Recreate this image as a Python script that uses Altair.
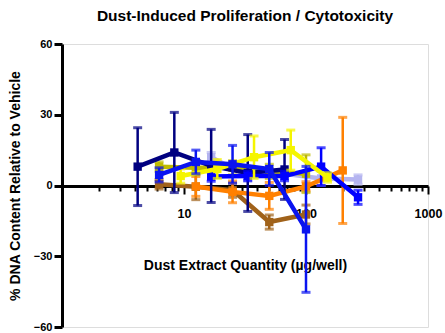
import altair as alt
import pandas as pd

# ---- data ----
series_names = ["Lavender", "Brown", "Orange", "Olive", "Navy", "Blue B", "Yellow", "Blue A"]
series_colors = ["#B4B4F0", "#A0621A", "#FF8000", "#BEBA00", "#000080", "#0000FF", "#F5F500", "#0A14F0"]

lav_x = [16.7, 33.3, 66.7, 133, 267]
lav_y = [12, 4, 5, 3, 2.5]
lav_e = [2, 2, 2, 3, 2]

brown_x = [6.25, 12.5, 25, 50, 100]
brown_y = [0.5, -0.5, -2, -15.5, -12.3]
brown_e = [2, 5.5, 3, 3, 4]

orange_x = [12.5, 25, 50, 100, 200]
orange_y = [-0.4, -2.7, -4.4, -0.4, 6.4]
orange_e = [4.2, 4.6, 5.7, 2, 22.5]

olive_x = [6.25, 12.5, 25, 50, 100]
olive_y = [8, 7.5, 7.5, 6, 5]
olive_e = [2, 3, 3, 3, 8]

navy_x = [4.17, 8.33, 16.7, 33.3, 66.7]
navy_y = [8, 14, 8.3, 5.3, 6.8]
navy_e = [16.5, 17, 15.5, 16.3, 12.7]

blueb_x = [16.7, 33.3, 66.7, 133, 267]
blueb_y = [3.8, 4, 4, 8, -5]
blueb_e = [2, 2, 2, 8, 3]

yellow_x = [9.4, 18.75, 37.5, 75, 150]
yellow_y = [4, 7, 12, 15, 3.4]
yellow_e = [3, 4, 9, 8.5, 2]

bluea_x = [6.25, 12.5, 25, 50, 100]
bluea_y = [4.5, 10, 9, 7, -18.6]
bluea_e = [3, 5, 8, 7, 26.7]

all_x = [lav_x, brown_x, orange_x, olive_x, navy_x, blueb_x, yellow_x, bluea_x]
all_y = [lav_y, brown_y, orange_y, olive_y, navy_y, blueb_y, yellow_y, bluea_y]
all_e = [lav_e, brown_e, orange_e, olive_e, navy_e, blueb_e, yellow_e, bluea_e]

x_ticks = [2, 3, 4, 5, 6, 7, 8, 9, 10, 20, 30, 40, 50, 60, 70, 80, 90, 100,
           200, 300, 400, 500, 600, 700, 800, 900, 1000]
y_ticks = [-60, -30, 0, 30, 60]

FONT = "Liberation Sans"

xscale = alt.Scale(type="log", domain=[1, 1000])
yscale = alt.Scale(domain=[-60, 60])

x_axis = alt.Axis(
    values=x_ticks,
    format="d",
    labelExpr="indexof([10,100,1000], datum.value) >= 0 ? datum.label : ''",
    offset=-141,
    domainWidth=3,
    domainColor="black",
    tickColor="black",
    tickWidth=2,
    tickSize={"condition": {"test": "indexof([10,100,1000], datum.value) >= 0", "value": 8}, "value": 5},
    labelPadding=13,
    labelFont=FONT,
    labelFontWeight="bold",
    labelFontSize=12.5,
    labelColor="black",
    labelFlush=False,
    labelOverlap=False,
    grid=False,
    title="Dust Extract Quantity (µg/well)",
    titleFont=FONT,
    titleFontWeight="bold",
    titleFontSize=14,
    titleColor="black",
    titlePadding=39,
)

y_axis = alt.Axis(
    values=y_ticks,
    domainWidth=3,
    domainColor="black",
    tickColor="black",
    tickWidth=3,
    tickSize=8,
    labelPadding=2,
    labelFont=FONT,
    labelFontWeight="bold",
    labelFontSize=11,
    labelColor="black",
    grid=False,
    title="% DNA Content Relative to Vehicle",
    titleFont=FONT,
    titleFontWeight="bold",
    titleFontSize=14,
    titleColor="black",
    titlePadding=11,
)

X = lambda f: alt.X(f, scale=xscale, axis=x_axis)
Y = lambda f: alt.Y(f, scale=yscale, axis=y_axis)

layers = []
for name, color, xs, ys, es in zip(series_names, series_colors, all_x, all_y, all_e):
    df = pd.DataFrame({"x": xs, "y": ys, "e": es})
    df["lo"] = df["y"] - df["e"]
    df["hi"] = df["y"] + df["e"]
    base = alt.Chart(df)
    line = base.mark_line(color=color, strokeWidth=4.5).encode(x=X("x:Q"), y=Y("y:Q"))
    rule = base.mark_rule(color=color, strokeWidth=2.5).encode(
        x=X("x:Q"), y=Y("lo:Q"), y2="hi:Q")
    cap_lo = base.mark_tick(color=color, orient="horizontal", size=9, thickness=3).encode(
        x=X("x:Q"), y=Y("lo:Q"))
    cap_hi = base.mark_tick(color=color, orient="horizontal", size=9, thickness=3).encode(
        x=X("x:Q"), y=Y("hi:Q"))
    pts = base.mark_square(color=color, size=70, opacity=1).encode(
        x=X("x:Q"), y=Y("y:Q"))
    layers += [line, rule, cap_lo, cap_hi, pts]

chart = alt.layer(*layers).properties(
    width=366,
    height=283,
    autosize=alt.AutoSizeParams(type="none"),
    padding={"left": 62, "top": 44, "right": 17, "bottom": 6},
    title=alt.TitleParams(
        "Dust-Induced Proliferation / Cytotoxicity",
        font=FONT, fontSize=15.5, fontWeight="bold", color="black",
        anchor="middle", offset=14,
    ),
).configure_view(strokeWidth=0).configure(background="white")

chart.save("out.html", embed_options={"renderer": "svg", "actions": False})
